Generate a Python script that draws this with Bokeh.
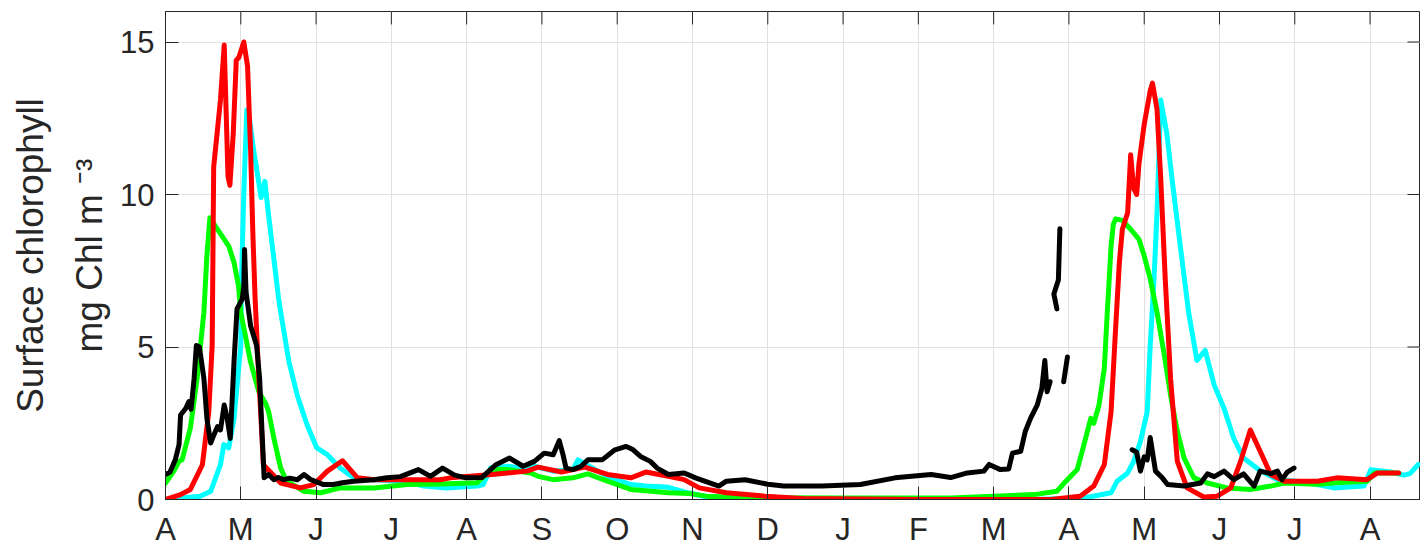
import math
from bokeh.plotting import figure
from bokeh.models import FixedTicker, Range1d
from bokeh.embed import file_html
from bokeh.resources import INLINE

NAN = float("nan")

month_labels = ["A", "M", "J", "J", "A", "S", "O", "N", "D", "J", "F", "M", "A", "M", "J", "J", "A"]
y_ticks = [0, 5, 10, 15]
x_max = 16.67
y_max = 16

cyan = [(0, 0), (0.46, 0.11), (0.6, 0.27), (0.73, 1.14), (0.775, 1.8), (0.84, 1.69), (0.91, 2.66),
        (1.0, 5.05), (1.01, 7.2), (1.04, 10.06), (1.08, 12.77), (1.12, 12.4), (1.17, 11.46), (1.22, 10.7),
        (1.27, 9.9), (1.32, 10.43), (1.37, 9.3), (1.44, 7.88), (1.5, 6.63), (1.53, 6.14), (1.64, 4.51),
        (1.75, 3.42), (1.88, 2.45), (2.01, 1.69), (2.15, 1.47), (2.32, 1.03), (2.5, 0.71), (2.77, 0.65),
        (3.21, 0.58), (3.43, 0.44), (3.73, 0.38), (4.14, 0.44), (4.22, 0.49), (4.32, 1.03), (4.55, 1.09),
        (4.8, 1.0), (4.9, 1.09), (5.15, 0.93), (5.41, 0.98), (5.48, 1.3), (5.61, 1.12), (5.87, 0.76),
        (6.18, 0.49), (6.38, 0.44), (6.68, 0.4), (6.94, 0.22), (7.19, 0.08), (7.7, 0.03), (8.5, 0.01),
        (10.0, 0.0), (11.5, 0.0), (12.2, 0.05), (12.56, 0.22), (12.64, 0.6), (12.78, 0.87), (12.86, 1.25),
        (12.95, 1.9), (13.04, 2.88), (13.08, 5.05), (13.13, 7.23), (13.17, 9.4), (13.22, 13.1), (13.3, 12.0),
        (13.37, 10.5), (13.48, 8.3), (13.59, 6.14), (13.7, 4.56), (13.81, 4.89), (13.93, 3.75), (14.06, 2.99),
        (14.19, 2.0), (14.32, 1.36), (14.55, 0.93), (14.77, 0.65), (15.03, 0.6), (15.3, 0.49), (15.52, 0.38),
        (15.92, 0.44), (16.01, 0.98), (16.27, 0.9), (16.45, 0.8), (16.53, 0.85), (16.64, 1.15)]

green = [(0, 0.54), (0.11, 0.93), (0.18, 1.25), (0.22, 1.3), (0.33, 2.34), (0.42, 3.97), (0.51, 6.14),
         (0.55, 8.0), (0.59, 9.24), (0.66, 8.97), (0.78, 8.53), (0.84, 8.31), (0.91, 7.77), (0.97, 7.01),
         (1.0, 6.14), (1.13, 4.51), (1.24, 3.53), (1.33, 3.15), (1.37, 2.88), (1.44, 2.0), (1.53, 1.03),
         (1.61, 0.6), (1.84, 0.27), (2.06, 0.22), (2.32, 0.38), (2.77, 0.38), (3.21, 0.49), (3.63, 0.51),
         (4.14, 0.55), (4.32, 0.98), (4.55, 0.98), (4.85, 0.87), (4.95, 0.76), (5.15, 0.65), (5.41, 0.71),
         (5.61, 0.84), (5.87, 0.6), (6.18, 0.33), (6.68, 0.22), (6.94, 0.2), (7.19, 0.11), (7.7, 0.06),
         (9.0, 0.05), (10.43, 0.05), (11.54, 0.16), (11.84, 0.27), (11.96, 0.6), (12.11, 0.98), (12.2, 1.8),
         (12.29, 2.66), (12.33, 2.5), (12.4, 3.1), (12.47, 4.3), (12.51, 6.14), (12.56, 8.31), (12.59, 9.02),
         (12.62, 9.2), (12.71, 9.15), (12.82, 8.86), (12.93, 8.53), (13.0, 7.99), (13.08, 7.23), (13.17, 6.14),
         (13.26, 4.84), (13.35, 3.42), (13.44, 2.23), (13.53, 1.36), (13.66, 0.71), (13.84, 0.54), (14.1, 0.38),
         (14.41, 0.33), (14.68, 0.44), (14.86, 0.54), (15.3, 0.5), (15.56, 0.55), (15.96, 0.6), (16.06, 0.87),
         (16.38, 0.87)]

red = [(0, 0), (0.2, 0.16), (0.33, 0.33), (0.49, 1.14), (0.575, 2.88), (0.62, 5.05), (0.64, 10.9),
       (0.73, 13.1), (0.78, 14.9), (0.83, 10.6), (0.855, 10.3), (0.9, 12.0), (0.94, 14.4), (0.975, 14.5),
       (1.04, 15.0), (1.09, 14.2), (1.13, 11.5), (1.16, 8.75), (1.19, 6.6), (1.24, 3.97), (1.3, 1.14),
       (1.53, 0.54), (1.79, 0.38), (1.97, 0.49), (2.15, 0.93), (2.35, 1.27), (2.55, 0.71), (2.77, 0.65),
       (3.65, 0.65), (3.78, 0.71), (4.34, 0.82), (4.8, 0.93), (4.95, 1.06), (5.26, 0.9), (5.57, 1.06),
       (5.87, 0.82), (6.18, 0.71), (6.38, 0.9), (6.68, 0.76), (6.89, 0.65), (7.09, 0.38), (7.45, 0.22),
       (7.96, 0.11), (8.46, 0.03), (10.0, 0.0), (11.76, 0.0), (12.15, 0.11), (12.33, 0.44), (12.47, 1.14),
       (12.56, 2.88), (12.62, 5.6), (12.67, 7.77), (12.71, 8.86), (12.78, 9.4), (12.82, 11.3), (12.86, 10.2),
       (12.9, 10.0), (12.93, 11.0), (13.0, 12.3), (13.08, 13.4), (13.11, 13.65), (13.17, 12.8), (13.22, 10.5),
       (13.28, 7.2), (13.35, 3.97), (13.44, 1.25), (13.57, 0.38), (13.79, 0.08), (13.97, 0.11), (14.15, 0.38),
       (14.28, 1.25), (14.41, 2.28), (14.54, 1.58), (14.68, 0.82), (14.86, 0.6), (15.3, 0.6), (15.56, 0.71),
       (15.96, 0.65), (16.1, 0.87), (16.38, 0.87)]

black = [(0, 0.82), (0.06, 0.9), (0.13, 1.3), (0.18, 1.8), (0.2, 2.77), (0.27, 2.99), (0.31, 3.21),
         (0.34, 2.96), (0.38, 3.97), (0.41, 5.05), (0.45, 5.0), (0.51, 3.97), (0.55, 2.66), (0.6, 1.85),
         (0.64, 2.1), (0.69, 2.39), (0.73, 2.28), (0.78, 3.1), (0.82, 2.66), (0.86, 2.0), (0.91, 4.51),
         (0.95, 6.25), (1.02, 6.58), (1.04, 7.0), (1.05, 8.2), (1.07, 6.8), (1.13, 5.7), (1.21, 5.05),
         (1.25, 3.97), (1.31, 0.71), (1.37, 0.82), (1.44, 0.65), (1.5, 0.72), (1.57, 0.65), (1.65, 0.7),
         (1.75, 0.65), (1.84, 0.82), (1.93, 0.65), (2.1, 0.49), (2.23, 0.49), (2.35, 0.55), (2.5, 0.6),
         (2.77, 0.65), (2.94, 0.71), (3.12, 0.75), (3.36, 0.98), (3.52, 0.76), (3.68, 1.03), (3.84, 0.8),
         (3.99, 0.71), (4.2, 0.72), (4.39, 1.14), (4.57, 1.36), (4.75, 1.09), (4.9, 1.25), (5.03, 1.52),
         (5.15, 1.47), (5.23, 1.93), (5.28, 1.47), (5.32, 1.03), (5.41, 0.98), (5.52, 1.09), (5.61, 1.3),
         (5.8, 1.3), (5.97, 1.63), (6.12, 1.74), (6.2, 1.65), (6.31, 1.41), (6.44, 1.25), (6.53, 1.03),
         (6.68, 0.82), (6.89, 0.87), (7.04, 0.71), (7.35, 0.44), (7.45, 0.6), (7.7, 0.65), (8.0, 0.5),
         (8.21, 0.44), (8.72, 0.44), (9.23, 0.49), (9.69, 0.71), (10.17, 0.82), (10.43, 0.72), (10.65, 0.87),
         (10.87, 0.93), (10.94, 1.15), (11.09, 0.98), (11.2, 1.0), (11.25, 1.52), (11.36, 1.58), (11.42, 2.23),
         (11.49, 2.66), (11.58, 3.1), (11.64, 3.64), (11.68, 4.56), (11.71, 3.53), (11.75, 3.86),
         (NAN, NAN), (11.84, 6.25), (11.8, 6.74), (11.86, 7.2), (11.88, 8.88),
         (NAN, NAN), (11.93, 3.86), (11.98, 4.67),
         (NAN, NAN), (12.84, 1.63), (12.9, 1.55), (12.95, 0.93), (13.0, 1.4), (13.04, 1.3), (13.08, 2.03),
         (13.15, 0.93), (13.24, 0.71), (13.31, 0.49), (13.53, 0.44), (13.75, 0.54), (13.84, 0.84), (13.93, 0.75),
         (14.06, 0.93), (14.19, 0.65), (14.32, 0.84), (14.46, 0.44), (14.54, 0.93), (14.68, 0.85), (14.77, 0.93),
         (14.83, 0.65), (14.9, 0.9), (14.99, 1.03)]

FONT = "Liberation Sans"
TXT = "#262626"
AX = "#262626"

p = figure(width=1420, height=549, output_backend="svg", toolbar_location=None,
           x_range=Range1d(0, x_max), y_range=Range1d(0, y_max),
           min_border_left=165, min_border_right=0, min_border_top=11, min_border_bottom=47)
p.outline_line_color = AX
p.outline_line_width = 1
p.background_fill_color = "white"

x_ticks = list(range(len(month_labels)))

for ax in (p.xaxis[0], p.yaxis[0]):
    ax.axis_line_color = AX
    ax.major_tick_line_color = AX
    ax.major_tick_in = 13
    ax.major_tick_out = 0
    ax.minor_tick_line_color = None
    ax.major_label_text_font = FONT
    ax.major_label_text_font_size = "31px"
    ax.major_label_text_color = TXT

p.xaxis[0].ticker = FixedTicker(ticks=x_ticks)
p.xaxis[0].major_label_overrides = {i: s for i, s in enumerate(month_labels)}
p.xaxis[0].major_label_standoff = 12
p.yaxis[0].ticker = FixedTicker(ticks=y_ticks)
p.yaxis[0].major_label_standoff = 11

p.yaxis[0].axis_label = "Surface chlorophyll\nmg Chl m \u207b\u00b3"
p.yaxis[0].axis_label_text_font = FONT
p.yaxis[0].axis_label_text_font_size = "37px"
p.yaxis[0].axis_label_text_font_style = "normal"
p.yaxis[0].axis_label_text_color = TXT
p.yaxis[0].axis_label_text_line_height = 1.45
p.yaxis[0].axis_label_standoff = 7

p.xgrid.ticker = FixedTicker(ticks=x_ticks)
p.ygrid.ticker = FixedTicker(ticks=y_ticks)
for g in (p.xgrid[0], p.ygrid[0]):
    g.grid_line_color = "#e1e1e1"
    g.grid_line_width = 1

# inward tick marks on the top and right frame edges (box on)
tick_dy = 13 / 30.67
tick_dx = 13 / 75.28
p.segment(x0=x_ticks, x1=x_ticks, y0=[y_max] * len(x_ticks), y1=[y_max - tick_dy] * len(x_ticks),
          line_color=AX, line_width=1)
p.segment(x0=[x_max] * len(y_ticks), x1=[x_max - tick_dx] * len(y_ticks), y0=y_ticks, y1=y_ticks,
          line_color=AX, line_width=1)

def unzip(pairs):
    return [a for a, b in pairs], [b for a, b in pairs]

for data, col in ((cyan, "#00FFFF"), (green, "#00FF00"), (red, "#FF0000"), (black, "#000000")):
    xs, ys = unzip(data)
    p.line(xs, ys, line_color=col, line_width=5, line_join="round", line_cap="round")

open("out.html", "w").write(file_html(p, INLINE))
